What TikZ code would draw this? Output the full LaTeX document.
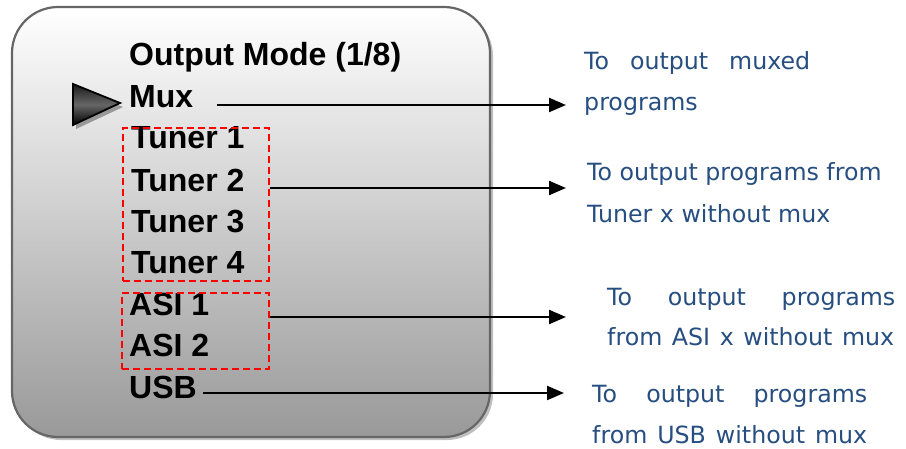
\documentclass[tikz,border=0pt]{standalone}
\usepackage{fontspec}
\setmainfont{Liberation Sans}
\newfontfamily\descfont{DejaVu Sans}
\usetikzlibrary{arrows.meta}
\definecolor{descblue}{RGB}{38,78,128}
\definecolor{frame}{RGB}{102,102,102}
\tikzset{
  item/.style={anchor=base west, inner sep=0pt, font=\fontsize{32}{36}\selectfont\bfseries},
  desc/.style={anchor=base west, inner sep=0pt, text=descblue, font=\fontsize{23.7}{28}\selectfont\descfont},
  group/.style={draw=red, line width=1.8pt, dash pattern=on 7pt off 4pt},
  link/.style={line width=2.2pt, -{Triangle[length=17pt,width=14pt]}}
}
\begin{document}
\begin{tikzpicture}[x=1pt,y=-1pt]
\useasboundingbox (0,0) rectangle (906,448);
% menu panel with drop shadow
\fill[black!25, rounded corners=46pt] (15,10) rectangle (493,440);
\shade[top color=white, bottom color=black!40, rounded corners=46pt] (12,7) rectangle (490,437);
\draw[frame, line width=2.2pt, rounded corners=46pt] (12,7) rectangle (490,437);
% selection marker
\fill[black!40] (76,88) -- (123,107) -- (76,129) -- cycle;
\shade[top color=black!90, bottom color=black, middle color=black!60]
  (73,84) -- (120,103) -- (73,125) -- cycle;
\draw[black, line width=1.8pt, line join=miter] (73,84) -- (120,103) -- (73,125) -- cycle;
% menu entries
\node[item] (title) at (129,65) {Output Mode (1/8)};
\node[item] (mux) at (129,107) {Mux};
\node[item] (t1) at (131,148) {Tuner 1};
\node[item] (t2) at (131,191) {Tuner 2};
\node[item] (t3) at (131,232) {Tuner 3};
\node[item] (t4) at (131,273) {Tuner 4};
\node[item] (a1) at (129,315) {ASI 1};
\node[item] (a2) at (129,356) {ASI 2};
\node[item] (usb) at (129,398) {USB};
% grouped entries
\node[group, inner sep=0pt, minimum width=146pt, minimum height=153pt, anchor=north west] (tuners) at (122,127) {};
\node[group, inner sep=0pt, minimum width=147pt, minimum height=76pt, anchor=north west] (asis) at (121,292) {};
% descriptions
\node[desc] (d1a) at (584,69) {\makebox[226pt][s]{To output muxed}};
\node[desc] (d1b) at (584,110) {programs};
\node[desc] (d2a) at (587,180) {To output programs from};
\node[desc] (d2b) at (587,222) {Tuner x without mux};
\node[desc] (d3a) at (607,305) {\makebox[288pt][s]{To output programs}};
\node[desc] (d3b) at (607,345) {\makebox[287pt][s]{from ASI x without mux}};
\node[desc] (d4a) at (592,402) {\makebox[275pt][s]{To output programs}};
\node[desc] (d4b) at (592,443) {\makebox[275pt][s]{from USB without mux}};
% connector end points
\coordinate (muxs) at (217,105);
\coordinate (muxe) at (566,105);
\coordinate (tuns) at (tuners.east |- 0,188);
\coordinate (tune) at (566,188);
\coordinate (asis0) at (asis.east |- 0,317);
\coordinate (asie) at (566,317);
\coordinate (usbs) at (203,393);
\coordinate (usbe) at (564,393);
\draw[link] (muxs) -- (muxe);
\draw[link] (tuns) -- (tune);
\draw[link] (asis0) -- (asie);
\draw[link] (usbs) -- (usbe);
\end{tikzpicture}
\end{document}
